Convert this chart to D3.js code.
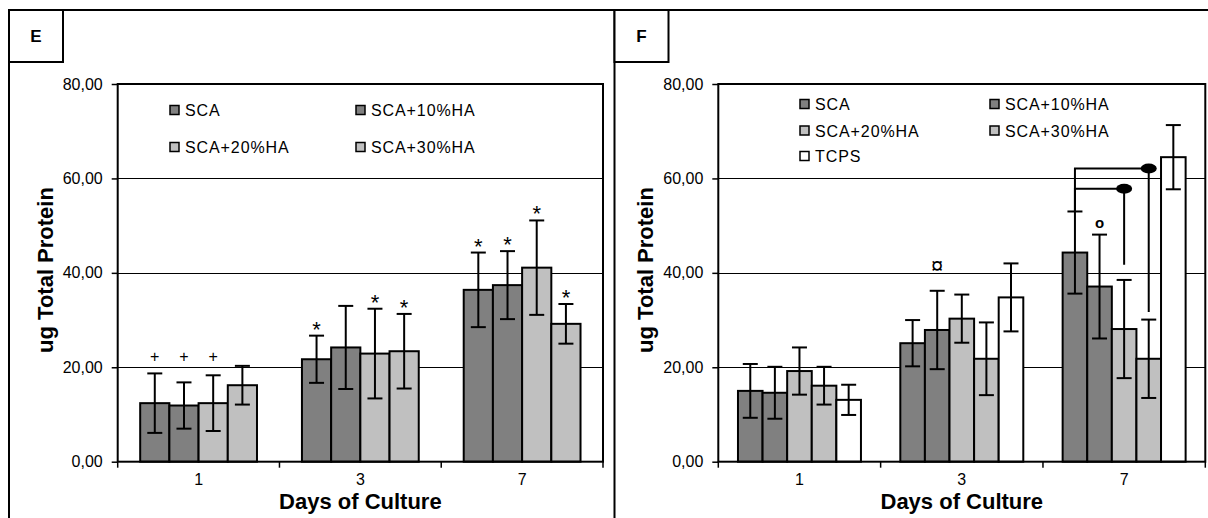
<!DOCTYPE html>
<html><head><meta charset="utf-8">
<script src="https://cdn.jsdelivr.net/npm/d3@7"></script>
<style>
body{margin:0;background:#fff}
svg{display:block}
text{font-family:"Liberation Sans",Arial,sans-serif;fill:#000}
</style>
</head><body>
<svg id="c" width="1208" height="518"></svg>
<script>
// ---------- data ----------
const categories = ["1", "3", "7"];
const yTicks = [0, 20, 40, 60, 80];
const xTitle = "Days of Culture";
const yTitle = "ug Total Protein";

// Panel E
const seriesE = ["SCA", "SCA+10%HA", "SCA+20%HA", "SCA+30%HA"];
const eSCA      = [12.4, 21.7, 36.4];
const eSCAerr   = [6.3, 5.0, 7.9];
const eHA10     = [11.9, 24.2, 37.4];
const eHA10err  = [4.9, 8.8, 7.2];
const eHA20     = [12.4, 22.9, 41.1];
const eHA20err  = [5.9, 9.5, 10.0];
const eHA30     = [16.2, 23.4, 29.2];
const eHA30err  = [4.1, 7.9, 4.2];
const eMarks = [
  {day: "1", s: "SCA", sym: "+", level: 22.1},
  {day: "1", s: "SCA+10%HA", sym: "+", level: 22.1},
  {day: "1", s: "SCA+20%HA", sym: "+", level: 22.1},
  {day: "3", s: "SCA", sym: "*"},
  {day: "3", s: "SCA+20%HA", sym: "*"},
  {day: "3", s: "SCA+30%HA", sym: "*"},
  {day: "7", s: "SCA", sym: "*"},
  {day: "7", s: "SCA+10%HA", sym: "*"},
  {day: "7", s: "SCA+20%HA", sym: "*"},
  {day: "7", s: "SCA+30%HA", sym: "*"}
];

// Panel F
const seriesF = ["SCA", "SCA+10%HA", "SCA+20%HA", "SCA+30%HA", "TCPS"];
const fSCA      = [15.0, 25.1, 44.3];
const fSCAerr   = [5.7, 4.9, 8.7];
const fHA10     = [14.6, 27.9, 37.1];
const fHA10err  = [5.5, 8.3, 11.0];
const fHA20     = [19.2, 30.3, 28.1];
const fHA20err  = [5.0, 5.1, 10.4];
const fHA30     = [16.1, 21.8, 21.8];
const fHA30err  = [4.0, 7.7, 8.3];
const fTCPS     = [13.1, 34.8, 64.5];
const fTCPSerr  = [3.2, 7.2, 6.8];
const fMarks = [
  {day: "3", s: "SCA+10%HA", sym: "¤", level: 41.2},
  {day: "7", s: "SCA+10%HA", sym: "o", level: 50.4}
];
const fBrackets = [
  {day: "7", from: "SCA", to: "SCA+20%HA", level: 57.8, end: 41.7},
  {day: "7", from: "SCA", to: "SCA+30%HA", level: 62.1, end: 31.7}
];

const colors = {
  "SCA": "#808080", "SCA+10%HA": "#808080",
  "SCA+20%HA": "#c0c0c0", "SCA+30%HA": "#c0c0c0", "TCPS": "#ffffff"
};

// ---------- drawing ----------
const svg = d3.select("#c");
const loc = d3.formatLocale({decimal: ",", thousands: ".", grouping: [3], currency: ["", ""]});
const fmt = loc.format(".2f");

// outer frames
svg.append("path").attr("d", "M9,518V10H1208").attr("fill", "none").attr("stroke", "#000").attr("stroke-width", 2);
svg.append("path").attr("d", "M614.5,518V10").attr("fill", "none").attr("stroke", "#000").attr("stroke-width", 2);

function panel(cfg) {
  const g = svg.append("g");
  const {left, right, top, bottom} = cfg;
  const x = d3.scaleBand().domain(categories).range([left, right]);
  const xs = d3.scaleBand().domain(cfg.series).range([0, x.bandwidth()]).paddingOuter(cfg.pad);
  const y = d3.scaleLinear().domain([0, 80]).range([bottom, top]);

  // label box
  g.append("rect").attr("x", cfg.boxX).attr("y", 10).attr("width", 54).attr("height", 52)
    .attr("fill", "#fff").attr("stroke", "#000").attr("stroke-width", 2);
  g.append("text").attr("x", cfg.boxX + 27).attr("y", 42).attr("text-anchor", "middle")
    .attr("font-size", 17).attr("font-weight", "bold").text(cfg.label);

  // gridlines
  g.append("g").selectAll("line").data(yTicks.filter(t => t > 0 && t < 80)).join("line")
    .attr("x1", left).attr("x2", right)
    .attr("y1", d => Math.round(y(d)) + 0.5).attr("y2", d => Math.round(y(d)) + 0.5)
    .attr("stroke", "#000").attr("stroke-width", 1);

  // bars
  const rows = [];
  cfg.series.forEach((s, si) => categories.forEach((c, ci) => {
    rows.push({s, c, v: cfg.values[si][ci], e: cfg.errs[si][ci]});
  }));
  g.append("g").selectAll("rect").data(rows).join("rect")
    .attr("x", d => x(d.c) + xs(d.s)).attr("width", xs.bandwidth())
    .attr("y", d => y(d.v)).attr("height", d => y(0) - y(d.v))
    .attr("fill", d => colors[d.s]).attr("stroke", "#000").attr("stroke-width", 2);

  // error bars
  const eb = g.append("g").attr("stroke", "#000").attr("stroke-width", 2);
  rows.forEach(d => {
    const cx = x(d.c) + xs(d.s) + xs.bandwidth() / 2;
    eb.append("line").attr("x1", cx).attr("x2", cx).attr("y1", y(d.v + d.e)).attr("y2", y(d.v - d.e));
    eb.append("line").attr("x1", cx - 7.5).attr("x2", cx + 7.5).attr("y1", y(d.v + d.e)).attr("y2", y(d.v + d.e));
    eb.append("line").attr("x1", cx - 7.5).attr("x2", cx + 7.5).attr("y1", y(d.v - d.e)).attr("y2", y(d.v - d.e));
  });

  // plot frame
  g.append("rect").attr("x", left).attr("y", top).attr("width", right - left).attr("height", bottom - top)
    .attr("fill", "none").attr("stroke", "#000").attr("stroke-width", 2);

  // y axis
  const ya = g.append("g").attr("transform", `translate(${left},0)`)
    .call(d3.axisLeft(y).tickValues(yTicks).tickFormat(fmt).tickSize(6).tickPadding(9));
  ya.select(".domain").remove();
  ya.selectAll("line").attr("stroke", "#000").attr("stroke-width", 1.5);
  ya.selectAll("text").attr("font-size", 16).attr("font-family", "Liberation Sans, Arial, sans-serif").attr("fill", "#000");

  // x axis
  const xa = g.append("g").attr("transform", `translate(0,${bottom})`)
    .call(d3.axisBottom(x).tickSize(0).tickPadding(12));
  xa.select(".domain").remove();
  xa.selectAll("text").attr("font-size", 16).attr("font-family", "Liberation Sans, Arial, sans-serif").attr("fill", "#000");
  const bounds = categories.map(c => x(c)).concat([right]);
  g.append("g").selectAll("line").data(bounds).join("line")
    .attr("x1", d => d).attr("x2", d => d).attr("y1", bottom).attr("y2", bottom + 6)
    .attr("stroke", "#000").attr("stroke-width", 1.5);

  // axis titles
  g.append("text").attr("x", (left + right) / 2).attr("y", 509).attr("text-anchor", "middle")
    .attr("font-size", 22).attr("font-weight", "bold").text(xTitle);
  g.append("text").attr("transform", `translate(${left - 65},270) rotate(-90)`).attr("text-anchor", "middle")
    .attr("font-size", 22).attr("font-weight", "bold").text(yTitle);

  // legend
  const lg = g.append("g");
  cfg.series.forEach((s, i) => {
    const col = i % 2, row = Math.floor(i / 2);
    const lx = cfg.legX[col], ly = cfg.legY[row];
    lg.append("rect").attr("x", lx).attr("y", ly - 4.5).attr("width", 9).attr("height", 9)
      .attr("fill", colors[s]).attr("stroke", "#000").attr("stroke-width", 1.5);
    lg.append("text").attr("x", lx + 15).attr("y", ly + 6).attr("font-size", 16)
      .attr("letter-spacing", 0.9).text(s);
  });

  // significance marks
  const lookup = {};
  rows.forEach(d => lookup[d.c + "|" + d.s] = d);
  cfg.marks.forEach(m => {
    const d = lookup[m.day + "|" + m.s];
    const cx = x(m.day) + xs(m.s) + xs.bandwidth() / 2;
    const t = g.append("text").attr("x", cx).attr("text-anchor", "middle")
      .attr("font-family", "Liberation Serif, Times New Roman, serif");
    if (m.sym === "*") {
      t.attr("y", y(d.v + d.e) + 1).attr("font-size", 22).text("*");
    } else if (m.sym === "+") {
      t.attr("y", y(m.level) + 5).attr("font-size", 16).text("+");
    } else if (m.sym === "o") {
      t.attr("y", y(m.level) + 4).attr("font-size", 15).attr("font-weight", "bold").text("o");
    } else {
      t.attr("y", y(m.level) + 6).attr("font-size", 22).attr("font-family", "DejaVu Sans, sans-serif").text(m.sym);
    }
  });

  // brackets
  (cfg.brackets || []).forEach(b => {
    const d0 = lookup[b.day + "|" + b.from];
    const x0 = x(b.day) + xs(b.from) + xs.bandwidth() / 2;
    const x1 = x(b.day) + xs(b.to) + xs.bandwidth() / 2;
    g.append("path")
      .attr("d", `M${x0},${y(d0.v + d0.e)}V${y(b.level)}H${x1}V${y(b.end)}`)
      .attr("fill", "none").attr("stroke", "#000").attr("stroke-width", 2);
    g.append("ellipse").attr("cx", x1).attr("cy", y(b.level)).attr("rx", 8).attr("ry", 5).attr("fill", "#000");
  });
}

panel({
  label: "E", boxX: 9, left: 117.7, right: 603, top: 84, bottom: 461.7, pad: 0.77,
  series: seriesE, values: [eSCA, eHA10, eHA20, eHA30], errs: [eSCAerr, eHA10err, eHA20err, eHA30err],
  legX: [170, 356], legY: [110, 147], marks: eMarks
});
panel({
  label: "F", boxX: 614.5, left: 718.3, right: 1205.3, top: 84, bottom: 461.7, pad: 0.8,
  series: seriesF, values: [fSCA, fHA10, fHA20, fHA30, fTCPS], errs: [fSCAerr, fHA10err, fHA20err, fHA30err, fTCPSerr],
  legX: [800, 990], legY: [104, 130.5, 156], marks: fMarks, brackets: fBrackets
});
</script>
</body></html>
